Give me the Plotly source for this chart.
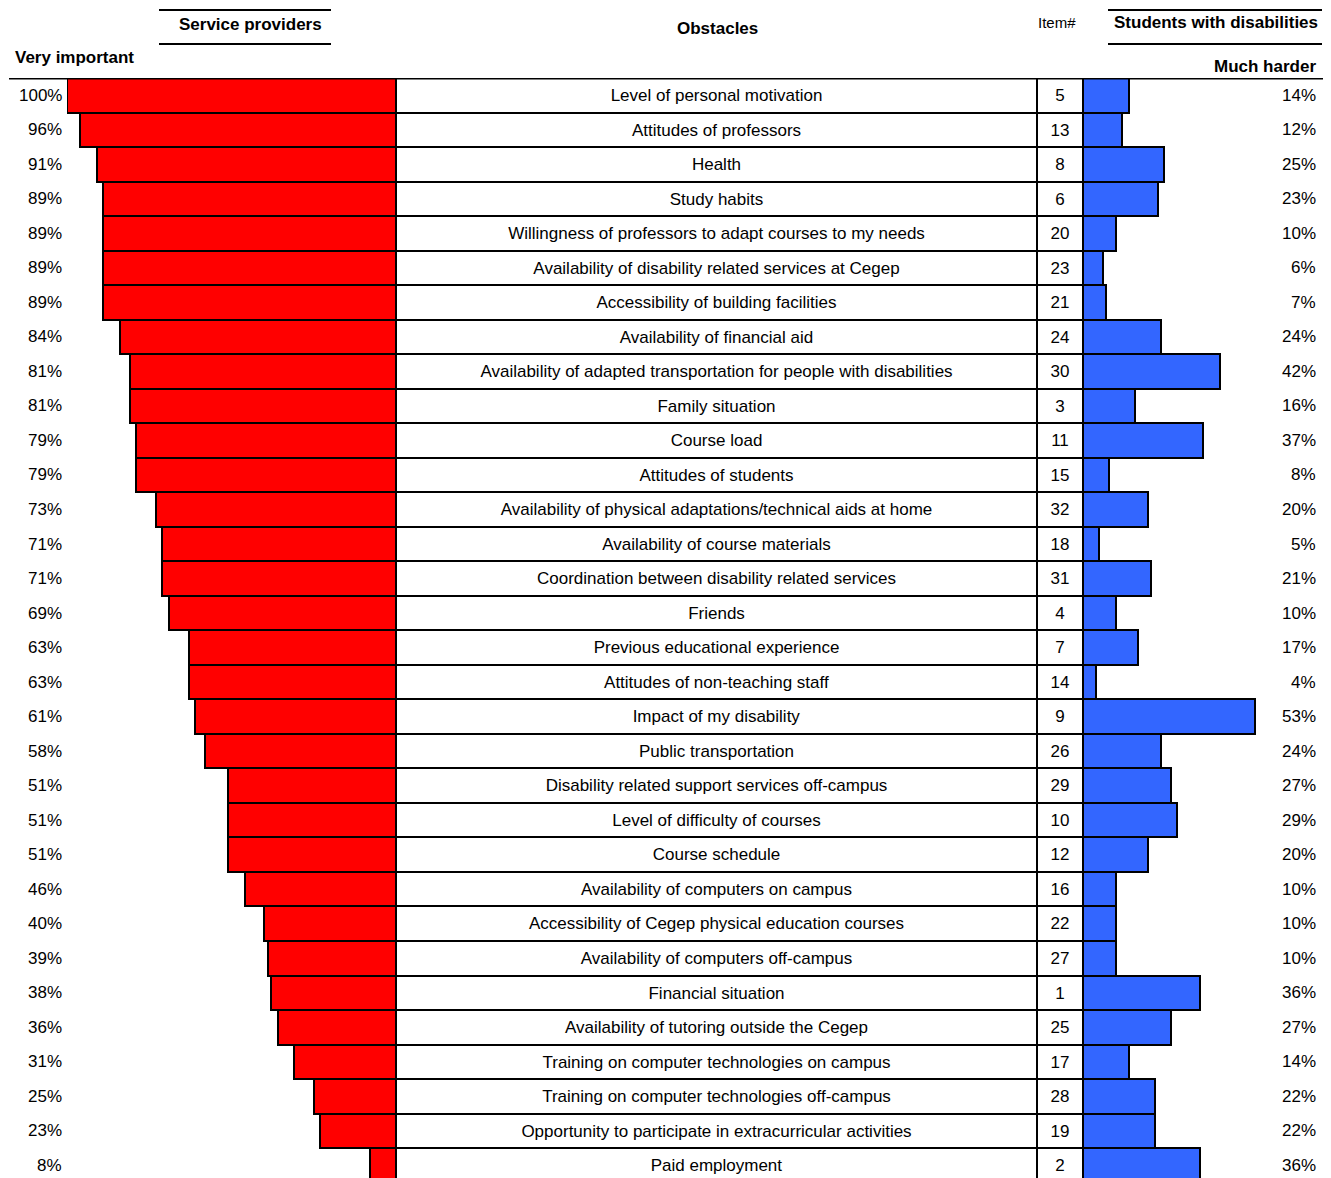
import plotly.graph_objects as go

obstacles = [
    "Level of personal motivation",
    "Attitudes of professors",
    "Health",
    "Study habits",
    "Willingness of professors to adapt courses to my needs",
    "Availability of disability related services at Cegep",
    "Accessibility of building facilities",
    "Availability of financial aid",
    "Availability of adapted transportation for people with disabilities",
    "Family situation",
    "Course load",
    "Attitudes of students",
    "Availability of physical adaptations/technical aids at home",
    "Availability of course materials",
    "Coordination between disability related services",
    "Friends",
    "Previous educational experience",
    "Attitudes of non-teaching staff",
    "Impact of my disability",
    "Public transportation",
    "Disability related support services off-campus",
    "Level of difficulty of courses",
    "Course schedule",
    "Availability of computers on campus",
    "Accessibility of Cegep physical education courses",
    "Availability of computers off-campus",
    "Financial situation",
    "Availability of tutoring outside the Cegep",
    "Training on computer technologies on campus",
    "Training on computer technologies off-campus",
    "Opportunity to participate in extracurricular activities",
    "Paid employment",
]
item_numbers = [5, 13, 8, 6, 20, 23, 21, 24, 30, 3, 11, 15, 32, 18, 31, 4,
                7, 14, 9, 26, 29, 10, 12, 16, 22, 27, 1, 25, 17, 28, 19, 2]
service_providers = [100, 96, 91, 89, 89, 89, 89, 84, 81, 81, 79, 79, 73, 71, 71, 69,
                     63, 63, 61, 58, 51, 51, 51, 46, 40, 39, 38, 36, 31, 25, 23, 8]
students = [14, 12, 25, 23, 10, 6, 7, 24, 42, 16, 37, 8, 20, 5, 21, 10,
            17, 4, 53, 24, 27, 29, 20, 10, 10, 10, 36, 27, 14, 22, 22, 36]

W, H = 1331, 1178
OFF = 8  # page body margin
FONT = "Liberation Sans, Arial, sans-serif"
px = lambda v: (v - OFF) / W
py = lambda v: 1 - (v - OFF) / H

n = len(obstacles)
row_h = 34.52
top = 78
rows_visible = (H - (top - OFF)) / row_h

fig = go.Figure()

# Service providers (red, reversed)
fig.add_trace(go.Bar(
    y=obstacles, x=service_providers, orientation="h",
    marker=dict(color="#FF0000", line=dict(color="black", width=2)),
    xaxis="x", yaxis="y", hoverinfo="skip", showlegend=False,
))
# Obstacles text column
fig.add_trace(go.Bar(
    y=obstacles, x=[1] * n, orientation="h",
    marker=dict(color="white", line=dict(color="black", width=2)),
    text=obstacles, textposition="inside", insidetextanchor="middle",
    textangle=0, constraintext="none",
    textfont=dict(family=FONT, size=17, color="black"),
    xaxis="x2", yaxis="y", hoverinfo="skip", showlegend=False,
))
# Item number column
fig.add_trace(go.Bar(
    y=obstacles, x=[1] * n, orientation="h",
    marker=dict(color="white", line=dict(color="black", width=2)),
    text=[str(v) for v in item_numbers], textposition="inside", insidetextanchor="middle",
    textangle=0, constraintext="none",
    textfont=dict(family=FONT, size=17, color="black"),
    xaxis="x3", yaxis="y", hoverinfo="skip", showlegend=False,
))
# Students (blue)
fig.add_trace(go.Bar(
    y=obstacles, x=students, orientation="h",
    marker=dict(color="#3366FF", line=dict(color="black", width=2)),
    xaxis="x4", yaxis="y", hoverinfo="skip", showlegend=False,
))

ax = dict(showgrid=False, zeroline=False, showticklabels=False, ticks="", showline=False, fixedrange=True)
annotations = []
for name, sp, st in zip(obstacles, service_providers, students):
    annotations.append(dict(xref="paper", yref="y", x=px(64), y=name, text=f"{sp}%",
                            xanchor="right", yanchor="middle", showarrow=False,
                            font=dict(family=FONT, size=17, color="black")))
    annotations.append(dict(xref="paper", yref="y", x=px(1318), y=name, text=f"{st}%",
                            xanchor="right", yanchor="middle", showarrow=False,
                            font=dict(family=FONT, size=17, color="black")))

hdr = dict(family=FONT, size=17, color="black")
annotations += [
    dict(xref="paper", yref="paper", x=px(250), y=py(24), text="<b>Service providers</b>",
         xanchor="center", yanchor="middle", showarrow=False, font=hdr),
    dict(xref="paper", yref="paper", x=px(13), y=py(57), text="<b>Very important</b>",
         xanchor="left", yanchor="middle", showarrow=False, font=hdr),
    dict(xref="paper", yref="paper", x=px(717), y=py(28), text="<b>Obstacles</b>",
         xanchor="center", yanchor="middle", showarrow=False, font=hdr),
    dict(xref="paper", yref="paper", x=px(1057), y=py(23), text="Item#",
         xanchor="center", yanchor="middle", showarrow=False,
         font=dict(family=FONT, size=15, color="black")),
    dict(xref="paper", yref="paper", x=px(1216), y=py(23), text="<b>Students with disabilities</b>",
         xanchor="center", yanchor="middle", showarrow=False, font=hdr),
    dict(xref="paper", yref="paper", x=px(1318), y=py(66), text="<b>Much harder</b>",
         xanchor="right", yanchor="middle", showarrow=False, font=hdr),
]

line = dict(color="black", width=2)
shapes = [
    dict(type="line", xref="paper", yref="paper", x0=px(159), x1=px(331), y0=py(10), y1=py(10), line=line),
    dict(type="line", xref="paper", yref="paper", x0=px(159), x1=px(331), y0=py(44), y1=py(44), line=line),
    dict(type="line", xref="paper", yref="paper", x0=px(1108), x1=px(1322), y0=py(10), y1=py(10), line=line),
    dict(type="line", xref="paper", yref="paper", x0=px(1108), x1=px(1322), y0=py(44), y1=py(44), line=line),
    dict(type="line", xref="paper", yref="y", x0=px(9), x1=1, y0=-0.5, y1=-0.5,
         line=dict(color="black", width=3)),
]

fig.update_layout(
    width=W, height=H,
    margin=dict(l=0, r=0, t=0, b=0),
    paper_bgcolor="white", plot_bgcolor="rgba(0,0,0,0)",
    bargap=0, barmode="overlay",
    xaxis=dict(domain=[px(67), px(396)], range=[100, 0], **ax),
    xaxis2=dict(domain=[px(396), px(1037)], range=[0, 1], **ax),
    xaxis3=dict(domain=[px(1037), px(1083)], range=[0, 1], **ax),
    xaxis4=dict(domain=[px(1083), 1], range=[0, (W + OFF - 1083) / 3.25], **ax),
    yaxis=dict(domain=[0, 1 - (top - OFF) / H], range=[-0.5 + rows_visible, -0.5],
               type="category", categoryorder="array", categoryarray=obstacles, **ax),
    annotations=annotations,
    shapes=shapes,
    font=dict(family=FONT),
)

fig.write_html("out.html")
